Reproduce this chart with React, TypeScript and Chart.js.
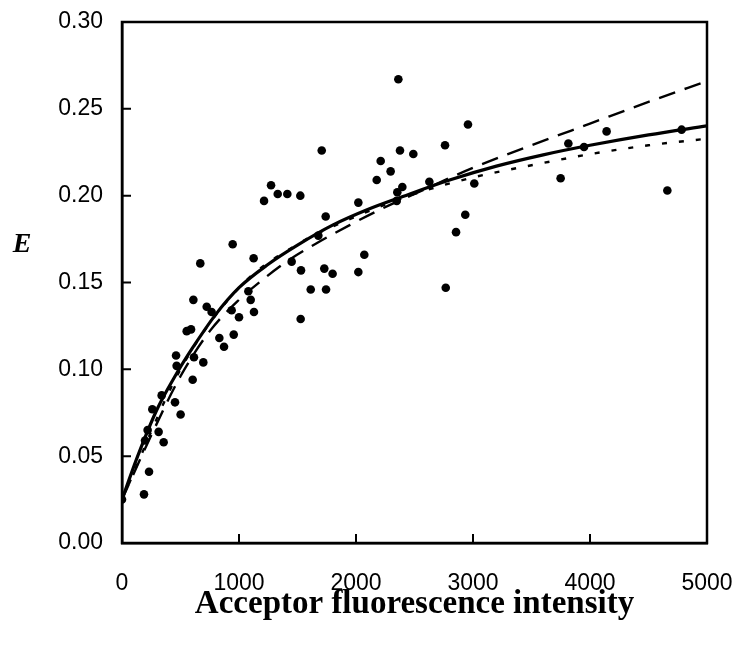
import React, { useEffect, useRef } from "react";
import { Chart, registerables } from "chart.js";

Chart.register(...registerables);

// Scatter data (acceptor fluorescence intensity, E)
const pointsX = [0, 188, 231, 197, 219, 313, 356, 259, 339, 453, 501, 604, 946, 1125, 669, 1080, 1100, 1128, 610, 724, 766, 937, 1000, 553, 590, 832, 872, 955, 462, 467, 615, 695, 1707, 2211, 2296, 2177, 2353, 2348, 1274, 1331, 1413, 1524, 1214, 2020, 1741, 1450, 1530, 1729, 1800, 2020, 2071, 1613, 1744, 1527, 1678, 2362, 2957, 2761, 2376, 2490, 2627, 2396, 3011, 2934, 2855, 2767, 3815, 3949, 4142, 4783, 3749, 4661];
const pointsY = [0.025, 0.028, 0.041, 0.059, 0.065, 0.064, 0.058, 0.077, 0.085, 0.081, 0.074, 0.094, 0.172, 0.164, 0.161, 0.145, 0.140, 0.133, 0.140, 0.136, 0.133, 0.134, 0.130, 0.122, 0.123, 0.118, 0.113, 0.120, 0.108, 0.102, 0.107, 0.104, 0.226, 0.220, 0.214, 0.209, 0.202, 0.197, 0.206, 0.201, 0.201, 0.200, 0.197, 0.196, 0.188, 0.162, 0.157, 0.158, 0.155, 0.156, 0.166, 0.146, 0.146, 0.129, 0.177, 0.267, 0.241, 0.229, 0.226, 0.224, 0.208, 0.205, 0.207, 0.189, 0.179, 0.147, 0.230, 0.228, 0.237, 0.238, 0.210, 0.203];

// Fitted curves
const solidX = [0, 134, 300, 453, 600, 800, 1000, 1250, 1500, 1800, 2100, 2400, 2800, 3200, 3600, 4000, 4500, 5000];
const solidY = [0.025, 0.050, 0.077, 0.096, 0.112, 0.1315, 0.147, 0.1605, 0.1715, 0.1830, 0.1920, 0.1995, 0.2090, 0.2170, 0.2235, 0.2290, 0.2350, 0.2402];

const dashedX = [0, 250, 500, 750, 1000, 1200, 1450, 1700, 1950, 2200, 2500, 3000, 3500, 4000, 4500, 5000];
const dashedY = [0.025, 0.062, 0.096, 0.122, 0.140, 0.1515, 0.1640, 0.1740, 0.1832, 0.1918, 0.2010, 0.2160, 0.2290, 0.2415, 0.2540, 0.2660];

const dottedX = [0, 500, 1000, 1500, 2000, 2500, 3000, 3500, 4000, 4500, 5000];
const dottedY = [0.025, 0.100, 0.147, 0.172, 0.188, 0.201, 0.2105, 0.2175, 0.2239, 0.2290, 0.2328];

const xTicks = [0, 1000, 2000, 3000, 4000, 5000];
const yTicks = [0, 0.05, 0.1, 0.15, 0.2, 0.25, 0.3];

const X_TITLE = "Acceptor fluorescence intensity";
const Y_TITLE = "E";

const toXY = (xs: number[], ys: number[]) => xs.map((x, i) => ({ x, y: ys[i] }));

const framePlugin = {
  id: "frame",
  afterDraw(chart: any) {
    const { ctx, chartArea: a, scales } = chart;
    ctx.save();
    ctx.strokeStyle = "#000";
    ctx.lineWidth = 2.5;
    ctx.strokeRect(a.left, a.top, a.right - a.left, a.bottom - a.top);
    ctx.lineWidth = 2;
    ctx.beginPath();
    xTicks.forEach((v) => {
      const px = scales.x.getPixelForValue(v);
      ctx.moveTo(px, a.bottom);
      ctx.lineTo(px, a.bottom - 9);
    });
    yTicks.forEach((v) => {
      const py = scales.y.getPixelForValue(v);
      ctx.moveTo(a.left, py);
      ctx.lineTo(a.left + 9, py);
    });
    ctx.stroke();
    ctx.fillStyle = "#000";
    ctx.textAlign = "center";
    ctx.textBaseline = "middle";
    ctx.font = 'bold 33px "Liberation Serif"';
    ctx.fillText(X_TITLE, (a.left + a.right) / 2, a.bottom + 61);
    ctx.font = 'bold italic 28px "Liberation Serif"';
    ctx.fillText(Y_TITLE, 22, a.top + 223);
    ctx.restore();
  },
};

export default function App() {
  const ref = useRef<HTMLCanvasElement | null>(null);
  useEffect(() => {
    if (!ref.current) return;
    const tickFont = { family: '"Liberation Sans", Arial, sans-serif', size: 23 };
    const chart = new Chart(ref.current, {
      type: "scatter",
      data: {
        datasets: [
          {
            label: "data",
            data: toXY(pointsX, pointsY),
            pointRadius: 4.3,
            pointBackgroundColor: "#000",
            pointBorderWidth: 0,
            showLine: false,
          } as any,
          {
            type: "line",
            label: "solid",
            data: toXY(solidX, solidY),
            borderColor: "#000",
            borderWidth: 3.2,
            pointRadius: 0,
            fill: false,
            cubicInterpolationMode: "monotone",
          } as any,
          {
            type: "line",
            label: "dashed",
            data: toXY(dashedX, dashedY),
            borderColor: "#000",
            borderWidth: 2.4,
            borderDash: [17, 10],
            pointRadius: 0,
            fill: false,
            cubicInterpolationMode: "monotone",
          } as any,
          {
            type: "line",
            label: "dotted",
            data: toXY(dottedX, dottedY),
            borderColor: "#000",
            borderWidth: 2.4,
            borderDash: [5, 12],
            pointRadius: 0,
            fill: false,
            cubicInterpolationMode: "monotone",
          } as any,
        ],
      },
      options: {
        animation: false,
        responsive: true,
        maintainAspectRatio: false,
        layout: { padding: { top: 22, right: 34, left: 0, bottom: 0 } },
        plugins: { legend: { display: false }, tooltip: { enabled: false } },
        scales: {
          x: {
            type: "linear",
            min: 0,
            max: 5000,
            afterBuildTicks: (s: any) => {
              s.ticks = xTicks.map((v) => ({ value: v }));
            },
            afterFit: (s: any) => {
              s.height = 109;
              s.paddingLeft = 0;
              s.paddingRight = 0;
            },
            ticks: {
              color: "#000",
              font: tickFont,
              padding: 27,
              maxRotation: 0,
              callback: (v: any) => String(v),
            },
            grid: { display: false, drawTicks: false },
            border: { display: true, color: "#000", width: 2.5 },
          },
          y: {
            type: "linear",
            min: 0,
            max: 0.3,
            afterBuildTicks: (s: any) => {
              s.ticks = yTicks.map((v) => ({ value: v }));
            },
            afterFit: (s: any) => {
              s.width = 122;
              s.paddingTop = 0;
              s.paddingBottom = 0;
            },
            ticks: {
              color: "#000",
              font: tickFont,
              padding: 19,
              callback: (v: any) => Number(v).toFixed(2),
            },
            grid: { display: false, drawTicks: false },
            border: { display: true, color: "#000", width: 2.5 },
          },
        },
      } as any,
      plugins: [framePlugin],
    });
    return () => chart.destroy();
  }, []);
  return (
    <div style={{ position: "fixed", left: 0, top: 0, width: 741, height: 652, background: "#fff" }}>
      <canvas ref={ref} />
    </div>
  );
}
